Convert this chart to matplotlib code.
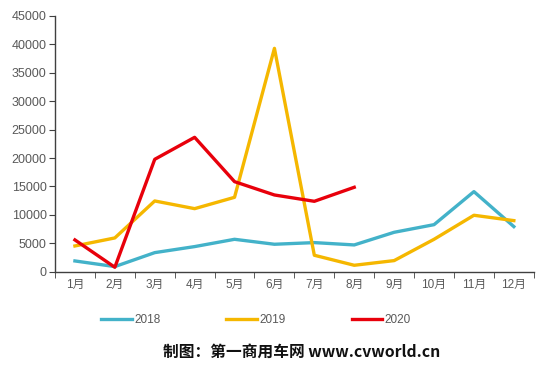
import matplotlib
matplotlib.use("Agg")
import matplotlib.pyplot as plt

plt.rcParams['font.family'] = ['Liberation Sans', 'Noto Sans CJK SC', 'DejaVu Sans']

months = ['1月', '2月', '3月', '4月', '5月', '6月', '7月', '8月', '9月', '10月', '11月', '12月']
sales_2018 = [1930, 940, 3390, 4450, 5730, 4860, 5150, 4740, 6960, 8300, 14100, 7960]
sales_2019 = [4560, 5970, 12460, 11110, 13100, 39250, 2930, 1170, 1990, 5730, 9950, 9010]
sales_2020 = [5620, 820, 19770, 23630, 15850, 13510, 12400, 14860]

fig = plt.figure(figsize=(5.52, 3.71), dpi=100)
ax = fig.add_axes([0.0996, 0.267, 0.8674, 0.691])

x = list(range(len(months)))
ax.plot(x, sales_2018, color='#43B2C9', lw=2.4, label='2018')
ax.plot(x, sales_2019, color='#F5B700', lw=2.4, label='2019')
ax.plot(x[:len(sales_2020)], sales_2020, color='#E8000B', lw=2.4, label='2020')

ax.set_xlim(-0.5, 11.5)
ax.set_ylim(0, 45000)
ax.set_yticks(range(0, 45001, 5000))
ax.set_xticks(x)
ax.set_xticklabels(months)
ax.set_xticks([i - 0.5 for i in range(13)], minor=True)
ax.tick_params(axis='x', which='major', length=0, pad=5, labelsize=8.5, labelcolor='#595959')
ax.tick_params(axis='x', which='minor', length=4, color='#404040')
ax.tick_params(axis='y', length=4, color='#404040', labelsize=9, labelcolor='#595959', pad=2)

for s in ['top', 'right']:
    ax.spines[s].set_visible(False)
for s in ['left', 'bottom']:
    ax.spines[s].set_color('#404040')
    ax.spines[s].set_linewidth(1)

fig.legend(loc='center', bbox_to_anchor=(256 / 552, 1 - 320 / 371), ncol=3,
           frameon=False, fontsize=8.5, handlelength=2.6, handletextpad=0.2,
           columnspacing=5.6, labelcolor='#595959')

fig.text(302 / 552, 1 - 352 / 371, '制图：第一商用车网 www.cvworld.cn', ha='center', va='center',
         fontsize=11.3, fontweight='bold', color='#111111', family=['Noto Sans CJK SC', 'DejaVu Sans'])

fig.savefig('out.png', dpi=100)
